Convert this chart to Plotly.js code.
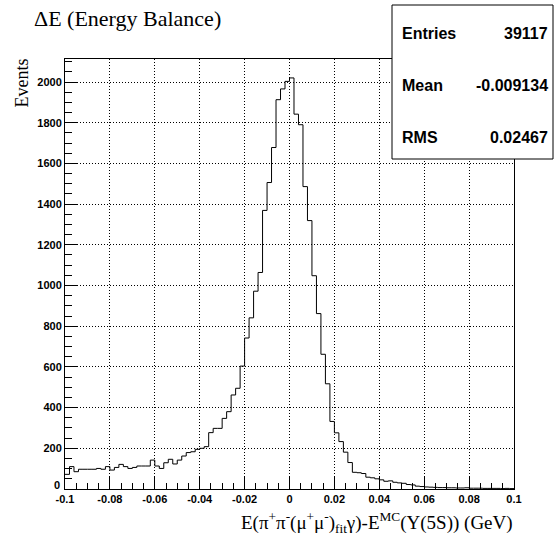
<!DOCTYPE html>
<html>
<head>
<meta charset="utf-8">
<script src="https://cdn.plot.ly/plotly-3.0.1.min.js"></script>
<style>html,body{margin:0;padding:0;background:#fff;}#chart{width:557px;height:542px;}</style>
</head>
<body>
<div id="chart"></div>
<script>
// Histogram definition: 100 bins from -0.1 to 0.1 GeV
const binLow = -0.1;
const binWidth = 0.002;
const counts = [
  72, 110, 85, 97, 97, 97, 97, 101, 97, 110,
  93, 106, 121, 110, 101, 106, 113, 113, 113, 142,
  113, 101, 129, 146, 123, 142, 162, 179, 183, 195,
  200, 208, 277, 298, 298, 347, 380, 462, 495, 604,
  742, 841, 972, 1064, 1369, 1506, 1678, 1913, 1966, 2003,
  2020, 1842, 1790, 1486, 1319, 1048, 862, 662, 517, 332,
  276, 233, 181, 130, 82, 80, 76, 58, 55, 50,
  45, 38, 40, 33, 30, 28, 22, 20, 14, 12,
  10, 9, 8, 7, 7, 6, 6, 5, 5, 6,
  4, 4, 4, 3, 3, 3, 3, 2, 3, 2
];
const xTickVals = [-0.1, -0.08, -0.06, -0.04, -0.02, 0, 0.02, 0.04, 0.06, 0.08, 0.1];
const xTickText = ["-0.1", "-0.08", "-0.06", "-0.04", "-0.02", "0", "0.02", "0.04", "0.06", "0.08", "0.1"];
const yTickVals = [0, 200, 400, 600, 800, 1000, 1200, 1400, 1600, 1800, 2000];
const yTickText = ["", "200", "400", "600", "800", "1000", "1200", "1400", "1600", "1800", "2000"];
const yZeroLabel = "0";
const statsLabels = ["Entries", "Mean", "RMS"];
const statsValues = ["39117", "-0.009134", "0.02467"];

// Step outline built from bin edges
const xs = [], ys = [];
for (let i = 0; i <= counts.length; i++) {
  xs.push(binLow + i * binWidth);
  ys.push(counts[Math.min(i, counts.length - 1)]);
}

const trace = {
  type: 'scatter', mode: 'lines', x: xs, y: ys,
  line: {shape: 'hv', color: '#000', width: 1},
  hoverinfo: 'skip', showlegend: false
};

// Geometry helpers (pixels -> paper)
const L = 65, R = 514, T = 59, B = 489, W = 557, H = 542;
const px = v => (v - L) / (R - L);
const py = v => (B - v) / (B - T);

const tickFont = {family: 'Liberation Sans, Arial, sans-serif', size: 11, color: '#000', weight: 'bold'};
const serif = 'Liberation Serif, Times New Roman, serif';
const statFont = {family: 'Liberation Sans, Arial, sans-serif', size: 16, color: '#000'};

const annotations = [
  {text: 'ΔE (Energy Balance)', xref: 'paper', yref: 'paper', x: px(32), y: py(18),
   xanchor: 'left', yanchor: 'middle', showarrow: false, font: {family: serif, size: 22, color: '#000'}},
  {text: 'Events', xref: 'paper', yref: 'paper', x: px(22), y: py(57), textangle: -90,
   xanchor: 'center', yanchor: 'top', showarrow: false, font: {family: serif, size: 18, color: '#000'}},
  {text: 'E(π<sup>+</sup>π<sup>-</sup>(μ<sup>+</sup>μ<sup>-</sup>)<sub>fit</sub>γ)-E<sup>MC</sup>(Υ(5S)) (GeV)',
   xref: 'paper', yref: 'paper', x: px(515), y: py(522), xanchor: 'right', yanchor: 'middle',
   showarrow: false, font: {family: serif, size: 19, color: '#000'}},
  {text: '<b>' + yZeroLabel + '</b>', xref: 'paper', yref: 'y', x: px(62), y: 0, yshift: 4,
   xanchor: 'right', yanchor: 'middle', showarrow: false, font: tickFont}
];
const rowY = [33, 85, 137];
statsLabels.forEach((lab, i) => {
  annotations.push({text: '<b>' + lab + '</b>', xref: 'paper', yref: 'paper', x: px(400), y: py(rowY[i]),
    xanchor: 'left', yanchor: 'middle', showarrow: false, font: statFont});
  annotations.push({text: '<b>' + statsValues[i] + '</b>', xref: 'paper', yref: 'paper', x: px(550), y: py(rowY[i]),
    xanchor: 'right', yanchor: 'middle', showarrow: false, font: statFont});
});

const layout = {
  width: W, height: H,
  margin: {l: L, r: W - R, t: T, b: H - B, pad: 0},
  paper_bgcolor: '#fff', plot_bgcolor: '#fff',
  showlegend: false,
  xaxis: {
    range: [-0.1, 0.1], tickmode: 'array', tickvals: xTickVals, ticktext: xTickText,
    ticks: 'inside', ticklen: 12, tickcolor: '#000', tickwidth: 1,
    minor: {dtick: 0.005, tick0: -0.1, ticks: 'inside', ticklen: 6, tickcolor: '#000', showgrid: false},
    showgrid: true, gridcolor: '#000', gridwidth: 1, griddash: '1px,2px',
    showline: true, linecolor: '#000', linewidth: 1, mirror: true,
    zeroline: false, tickfont: tickFont, fixedrange: true
  },
  yaxis: {
    range: [0, 2113], tickmode: 'array', tickvals: yTickVals, ticktext: yTickText,
    ticks: 'inside', ticklen: 13, tickcolor: '#000', tickwidth: 1,
    minor: {dtick: 50, tick0: 0, ticks: 'inside', ticklen: 7, tickcolor: '#000', showgrid: false},
    showgrid: true, gridcolor: '#000', gridwidth: 1, griddash: '1px,2px',
    showline: true, linecolor: '#000', linewidth: 1, mirror: true,
    zeroline: false, tickfont: tickFont, fixedrange: true
  },
  shapes: [
    {type: 'rect', xref: 'paper', yref: 'paper', x0: px(392), x1: px(553), y0: py(159), y1: py(5),
     fillcolor: '#fff', line: {color: '#000', width: 1}, layer: 'above'}
  ],
  annotations: annotations
};

Plotly.newPlot('chart', [trace], layout, {displayModeBar: false, staticPlot: true});
</script>
</body>
</html>
